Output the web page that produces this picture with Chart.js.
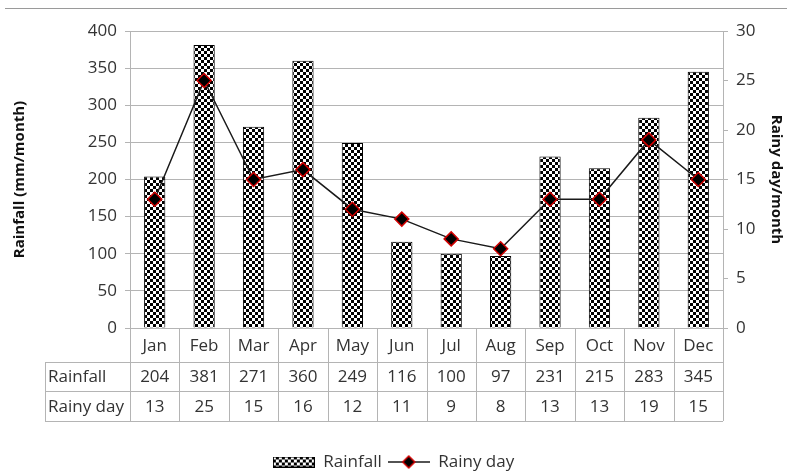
<!DOCTYPE html>
<html>
<head>
<meta charset="utf-8">
<title>Rainfall and rainy days</title>
<script src="https://cdn.jsdelivr.net/npm/chart.js@4.4.1/dist/chart.umd.min.js"></script>
<style>
  html, body { margin: 0; padding: 0; background: #fff; }
  #wrap { width: 787px; height: 471px; }
</style>
</head>
<body>
<div id="wrap"><canvas id="rainChart"></canvas></div>
<script>
// monthly data
const months = ["Jan", "Feb", "Mar", "Apr", "May", "Jun", "Jul", "Aug", "Sep", "Oct", "Nov", "Dec"];
const rainfall = [204, 381, 271, 360, 249, 116, 100, 97, 231, 215, 283, 345];
const rainyDays = [13, 25, 15, 16, 12, 11, 9, 8, 13, 13, 19, 15];

// axis ranges
const rainfallMax = 400;
const rainfallStep = 50;
const daysMax = 30;
const daysStep = 5;

const tableRows = [
  ["Rainfall", rainfall],
  ["Rainy day", rainyDays],
];

const FONT = "'Open Sans', 'Noto Sans', sans-serif";
const GRID = "#b4b4b4";
const TEXT = "#333";

// checkered fill for the bars
function makeChecker() {
  const c = document.createElement("canvas");
  c.width = 6;
  c.height = 6;
  const g = c.getContext("2d");
  g.fillStyle = "#000";
  g.fillRect(0, 0, 6, 6);
  g.fillStyle = "#fff";
  g.fillRect(0, 0, 3, 3);
  g.fillRect(3, 3, 3, 3);
  return c;
}
const checkerTile = makeChecker();
const checker = document.createElement("canvas").getContext("2d").createPattern(checkerTile, "repeat");

// legend swatches
function barSwatch() {
  const c = document.createElement("canvas");
  c.width = 42;
  c.height = 11;
  const g = c.getContext("2d");
  g.fillStyle = g.createPattern(checkerTile, "repeat");
  g.fillRect(0, 0, 42, 11);
  g.strokeStyle = "#000";
  g.lineWidth = 1;
  g.strokeRect(0.5, 0.5, 41, 10);
  return c;
}
function lineSwatch() {
  const c = document.createElement("canvas");
  c.width = 42;
  c.height = 16;
  const g = c.getContext("2d");
  g.strokeStyle = "#1a1a1a";
  g.lineWidth = 1.5;
  g.beginPath();
  g.moveTo(0, 8);
  g.lineTo(42, 8);
  g.stroke();
  g.beginPath();
  g.moveTo(21, 2);
  g.lineTo(27, 8);
  g.lineTo(21, 14);
  g.lineTo(15, 8);
  g.closePath();
  g.fillStyle = "#000";
  g.fill();
  g.strokeStyle = "#d00000";
  g.lineWidth = 1.5;
  g.stroke();
  return c;
}

function px(v) {
  return Math.round(v) + 0.5;
}

// top rule line and data table under the plot
const dataTable = {
  id: "dataTable",
  beforeDraw(chart) {
    const ctx = chart.ctx;
    ctx.save();
    ctx.strokeStyle = "#9a9a9a";
    ctx.lineWidth = 1;
    ctx.beginPath();
    ctx.moveTo(5, px(8));
    ctx.lineTo(chart.width, px(8));
    ctx.stroke();
    ctx.restore();
  },
  afterDraw(chart) {
    const ctx = chart.ctx;
    const xs = chart.scales.x;
    const area = chart.chartArea;
    const labelLeft = 45;
    const rowTops = [area.bottom, area.bottom + 34, area.bottom + 63, area.bottom + 93];
    const n = months.length;

    const bounds = [];
    for (let i = 0; i <= n; i++) {
      if (i === 0) bounds.push(area.left);
      else if (i === n) bounds.push(area.right);
      else bounds.push((xs.getPixelForValue(i - 1) + xs.getPixelForValue(i)) / 2);
    }

    ctx.save();
    ctx.strokeStyle = GRID;
    ctx.lineWidth = 1;
    ctx.beginPath();
    bounds.forEach((b) => {
      ctx.moveTo(px(b), area.bottom);
      ctx.lineTo(px(b), rowTops[3]);
    });
    for (let r = 1; r <= 3; r++) {
      ctx.moveTo(labelLeft, px(rowTops[r]));
      ctx.lineTo(area.right, px(rowTops[r]));
    }
    ctx.moveTo(px(labelLeft), rowTops[1]);
    ctx.lineTo(px(labelLeft), rowTops[3]);
    ctx.stroke();

    ctx.fillStyle = TEXT;
    ctx.font = "17px " + FONT;
    ctx.textBaseline = "middle";
    ctx.textAlign = "center";
    months.forEach((m, i) => {
      ctx.fillText(m, xs.getPixelForValue(i), (rowTops[0] + rowTops[1]) / 2 + 1);
    });
    tableRows.forEach(([name, values], r) => {
      const cy = (rowTops[r + 1] + rowTops[r + 2]) / 2 + 1;
      ctx.textAlign = "left";
      ctx.fillText(name, labelLeft + 3, cy);
      ctx.textAlign = "center";
      values.forEach((v, i) => {
        ctx.fillText(String(v), xs.getPixelForValue(i), cy);
      });
    });
    ctx.restore();
  },
};

new Chart(document.getElementById("rainChart"), {
  data: {
    labels: months,
    datasets: [
      {
        type: "bar",
        label: "Rainfall",
        data: rainfall,
        yAxisID: "y",
        backgroundColor: checker,
        borderColor: "#000",
        borderWidth: 1,
        categoryPercentage: 1,
        barPercentage: 0.43,
        order: 2,
      },
      {
        type: "line",
        label: "Rainy day",
        data: rainyDays,
        yAxisID: "y1",
        borderColor: "#1a1a1a",
        borderWidth: 1.5,
        tension: 0,
        pointStyle: "rectRot",
        pointRadius: 7,
        pointBackgroundColor: "#000",
        pointBorderColor: "#d00000",
        pointBorderWidth: 1.5,
        order: 1,
      },
    ],
  },
  options: {
    responsive: true,
    maintainAspectRatio: false,
    devicePixelRatio: 1,
    animation: false,
    events: [],
    layout: { padding: { left: 0, right: 0, top: 31, bottom: -9.5 } },
    scales: {
      x: {
        display: true,
        offset: true,
        grid: { display: false },
        border: { display: false },
        ticks: { display: false },
        afterFit: (s) => {
          s.height = 119.5;
        },
      },
      y: {
        position: "left",
        min: 0,
        max: rainfallMax,
        ticks: {
          stepSize: rainfallStep,
          padding: 8,
          color: TEXT,
          font: { family: FONT, size: 17 },
        },
        grid: { color: GRID, tickLength: 5 },
        border: { color: GRID },
        title: {
          display: true,
          text: "Rainfall (mm/month)",
          color: "#111",
          font: { family: FONT, size: 15, weight: "bold" },
          padding: { top: 11 },
        },
        afterFit: (s) => {
          s.width = 130;
        },
      },
      y1: {
        position: "right",
        min: 0,
        max: daysMax,
        ticks: {
          stepSize: daysStep,
          padding: 8,
          color: TEXT,
          font: { family: FONT, size: 17 },
        },
        grid: { drawOnChartArea: false, color: GRID, tickLength: 5 },
        border: { color: GRID },
        title: {
          display: true,
          text: "Rainy day/month",
          color: "#111",
          font: { family: FONT, size: 15, weight: "bold" },
          padding: { top: 2 },
        },
        afterFit: (s) => {
          s.width = 64;
        },
      },
    },
    plugins: {
      tooltip: { enabled: false },
      legend: {
        position: "bottom",
        labels: {
          usePointStyle: true,
          pointStyleWidth: 42,
          padding: 6,
          color: TEXT,
          font: { family: FONT, size: 17 },
          generateLabels: () => [
            { text: "Rainfall", pointStyle: barSwatch(), fillStyle: "#000", strokeStyle: "#000", lineWidth: 0, hidden: false, datasetIndex: 0, fontColor: TEXT },
            { text: "Rainy day", pointStyle: lineSwatch(), fillStyle: "#000", strokeStyle: "#000", lineWidth: 0, hidden: false, datasetIndex: 1, fontColor: TEXT },
          ],
        },
      },
    },
  },
  plugins: [dataTable],
});
</script>
</body>
</html>
